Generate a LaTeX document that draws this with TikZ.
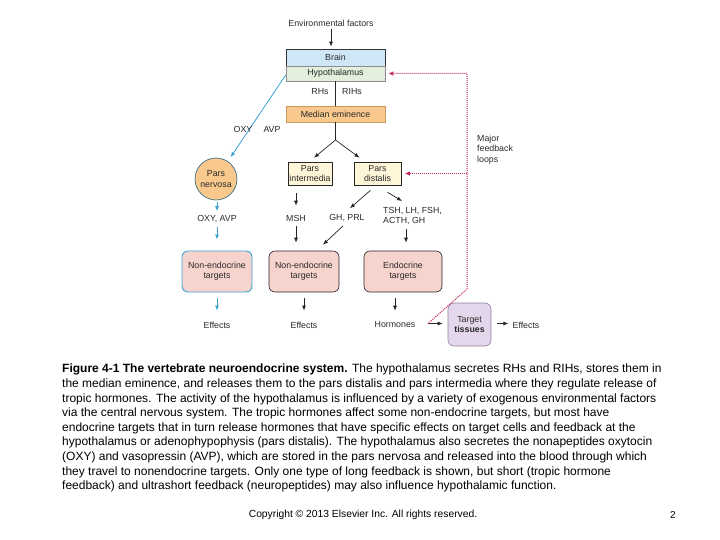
\documentclass[tikz,border=0pt]{standalone}
\usepackage{fontspec}
\setmainfont{Liberation Sans}
\usetikzlibrary{arrows.meta,calc}
\definecolor{brainc}{HTML}{CFE6F6}
\definecolor{hypoc}{HTML}{E3EEDC}
\definecolor{medc}{HTML}{F8C88C}
\definecolor{medd}{HTML}{C9985A}
\definecolor{parsc}{HTML}{FFF5D8}
\definecolor{pinkc}{HTML}{F6D3CC}
\definecolor{bluec}{HTML}{3AA3D4}
\definecolor{lavc}{HTML}{E4D7EC}
\definecolor{lavd}{HTML}{8E7F9C}
\definecolor{fbc}{HTML}{C52A5C}
\definecolor{txtc}{HTML}{2A2A2A}
\tikzset{
  lbl/.style={inner sep=0pt, font=\fontsize{8.8}{10.4}\selectfont, text=txtc, align=center},
  boxa/.style={draw, line width=0.6pt, inner sep=0pt, font=\fontsize{8.8}{10.4}\selectfont, text=txtc, align=center},
  arr/.style={-{Latex[length=5pt,width=4pt]}, line width=0.7pt, black!85},
  barr/.style={-{Latex[length=5pt,width=4pt]}, line width=0.8pt, bluec},
  fbline/.style={densely dotted, line width=1pt, fbc},
  fbarr/.style={fbline, -{Latex[length=5pt,width=4.5pt]}},
}
\begin{document}
\begin{tikzpicture}[x=1pt,y=-1pt]
\useasboundingbox[fill=white] (0,0) rectangle (720,540);
% top part
\node[lbl] (env) at (331,23) {Environmental factors};
\node[boxa, fill=brainc, draw=black!80, minimum width=99pt, minimum height=17pt] (brain) at (335.5,57.5) {Brain};
\node[boxa, fill=hypoc, draw=black!45, minimum width=99pt, minimum height=15pt] (hypo) at (335.5,73.5) {Hypothalamus};
\draw[arr, shorten <=3pt, shorten >=2pt] (env) -- (env |- brain.north);
\node[boxa, fill=medc, draw=medd, minimum width=99pt, minimum height=16pt] (med) at (335.5,114) {Median eminence};
\draw[line width=0.8pt, black!85] (hypo.south) -- (med.north);
\node[lbl] (rhs) at (320,92) {RHs};
\node[lbl] (rihs) at (352,92) {RIHs};
\coordinate (br) at (335.5,140);
\draw[line width=0.8pt, black!85] (med.south) -- (br);
\node[boxa, fill=parsc, draw=black!85, minimum width=44pt, minimum height=23pt] (pint) at (310,173.5) {Pars\\intermedia};
\node[boxa, fill=parsc, draw=black!85, minimum width=47pt, minimum height=23pt] (pdis) at (377.5,173.5) {Pars\\distalis};
\draw[arr] (br) -- ([xshift=4pt,yshift=4pt]pint.north);
\draw[arr] (br) -- ([xshift=-18pt,yshift=4pt]pdis.north);
% pars nervosa column
\node[boxa, circle, fill=medc, draw=black!40!bluec, minimum size=42pt] (pn) at (216,179) {Pars\\nervosa};
\draw[barr, shorten >=5pt] ([yshift=-1.5pt]hypo.west) -- (pn);
\node[lbl] (oxy) at (243,129) {OXY};
\node[lbl] (avp) at (272,129) {AVP};
\node[lbl] (oxyavp) at (217,219) {OXY, AVP};
\draw[barr, shorten <=2pt, shorten >=4pt] (pn.south -| oxyavp.north) -- (oxyavp.north);
\node[boxa, rounded corners=6pt, fill=pinkc, draw=bluec, line width=0.9pt, minimum width=70pt, minimum height=41pt] (ne1) at (217,271.5) {Non-endocrine\\targets};
\draw[barr, shorten <=4pt, shorten >=11pt] (oxyavp.south) -- (ne1.north);
\node[lbl] (eff1) at (217,325) {Effects};
\draw[barr, shorten <=6pt, shorten >=11pt] (ne1.south) -- (eff1.north);
% middle column
\node[lbl] (msh) at (296,218) {MSH};
\draw[arr, shorten <=8pt, shorten >=9pt] (pint.south -| msh.north) -- (msh.north);
\node[boxa, rounded corners=6pt, fill=pinkc, draw=black!85, minimum width=70pt, minimum height=41pt] (ne2) at (304,271.5) {Non-endocrine\\targets};
\draw[arr, shorten <=5pt, shorten >=8pt] (msh.south) -- (msh.south |- ne2.north);
\node[lbl] (eff2) at (304,325) {Effects};
\draw[arr, shorten <=6pt, shorten >=11pt] (ne2.south) -- (eff2.north);
\node[lbl] (ghprl) at (347,218) {GH, PRL};
\draw[arr] ([xshift=-7pt,yshift=-5pt]pdis.south) -- ([xshift=3pt,yshift=6pt]ghprl.north);
\draw[arr] ([xshift=-4pt,yshift=-4pt]ghprl.south) -- ([xshift=19pt,yshift=6pt]ne2.north);
% right column
\node[lbl, align=left, anchor=north west] (tsh) at (383,207) {TSH, LH, FSH,\\ACTH, GH};
\draw[arr] ([xshift=10pt,yshift=-7pt]pdis.south) -- ([xshift=19pt,yshift=6pt]tsh.north west);
\node[boxa, rounded corners=6pt, fill=pinkc, draw=black!85, minimum width=78pt, minimum height=41pt] (et) at (403,271.5) {Endocrine\\targets};
\draw[arr, shorten <=4pt, shorten >=8pt] ([xshift=3pt]et.north |- tsh.south) -- ([xshift=3pt]et.north);
\node[lbl] (horm) at (395,325) {Hormones};
\draw[arr, shorten <=6pt, shorten >=11pt] (et.south -| horm.north) -- (horm.north);
\node[boxa, rounded corners=6pt, fill=lavc, draw=lavd, minimum width=43pt, minimum height=43pt] (tt) at (469.5,324.5) {Target\\\textbf{tissues}};
\coordinate (hs) at (428,323.5);
\draw[arr, shorten >=5pt] (hs) -- (tt.west |- hs);
\node[lbl] (eff3) at (526,325) {Effects};
\draw[arr, shorten <=6pt, shorten >=4pt] (tt.east |- hs) -- (eff3.west |- hs);
% feedback loops
\coordinate (fb1) at (467,289);
\coordinate (fbt) at (467,73.5);
\coordinate (fbm) at (467,173.5);
\draw[fbarr, shorten >=3pt] (hs) -- (fb1) -- (fbt) -- (hypo.east);
\draw[fbarr, shorten >=3.5pt] (fbm) -- (pdis.east);
\node[lbl, align=left, anchor=north west] (major) at (477,135) {Major\\feedback\\loops};
% caption
\node[inner sep=0pt, anchor=north west, align=left, text=black, font=\fontsize{12}{14.6}\selectfont] (cap) at (62,364) {%
\textbf{Figure 4-1 The vertebrate neuroendocrine system.} The hypothalamus secretes RHs and RIHs, stores them in\\
the median eminence, and releases them to the pars distalis and pars intermedia where they regulate release of\\
tropic hormones. The activity of the hypothalamus is influenced by a variety of exogenous environmental factors\\
via the central nervous system. The tropic hormones affect some non-endocrine targets, but most have\\
endocrine targets that in turn release hormones that have specific effects on target cells and feedback at the\\
hypothalamus or adenophypophysis (pars distalis). The hypothalamus also secretes the nonapeptides oxytocin\\
(OXY) and vasopressin (AVP), which are stored in the pars nervosa and released into the blood through which\\
they travel to nonendocrine targets. Only one type of long feedback is shown, but short (tropic hormone\\
feedback) and ultrashort feedback (neuropeptides) may also influence hypothalamic function.};
\node[inner sep=0pt, font=\fontsize{10.3}{11}\selectfont] (copy) at (363,515) {Copyright © 2013 Elsevier Inc. All rights reserved.};
\node[inner sep=0pt, font=\fontsize{10}{11}\selectfont] (pg) at (673,515) {2};
\end{tikzpicture}
\end{document}
